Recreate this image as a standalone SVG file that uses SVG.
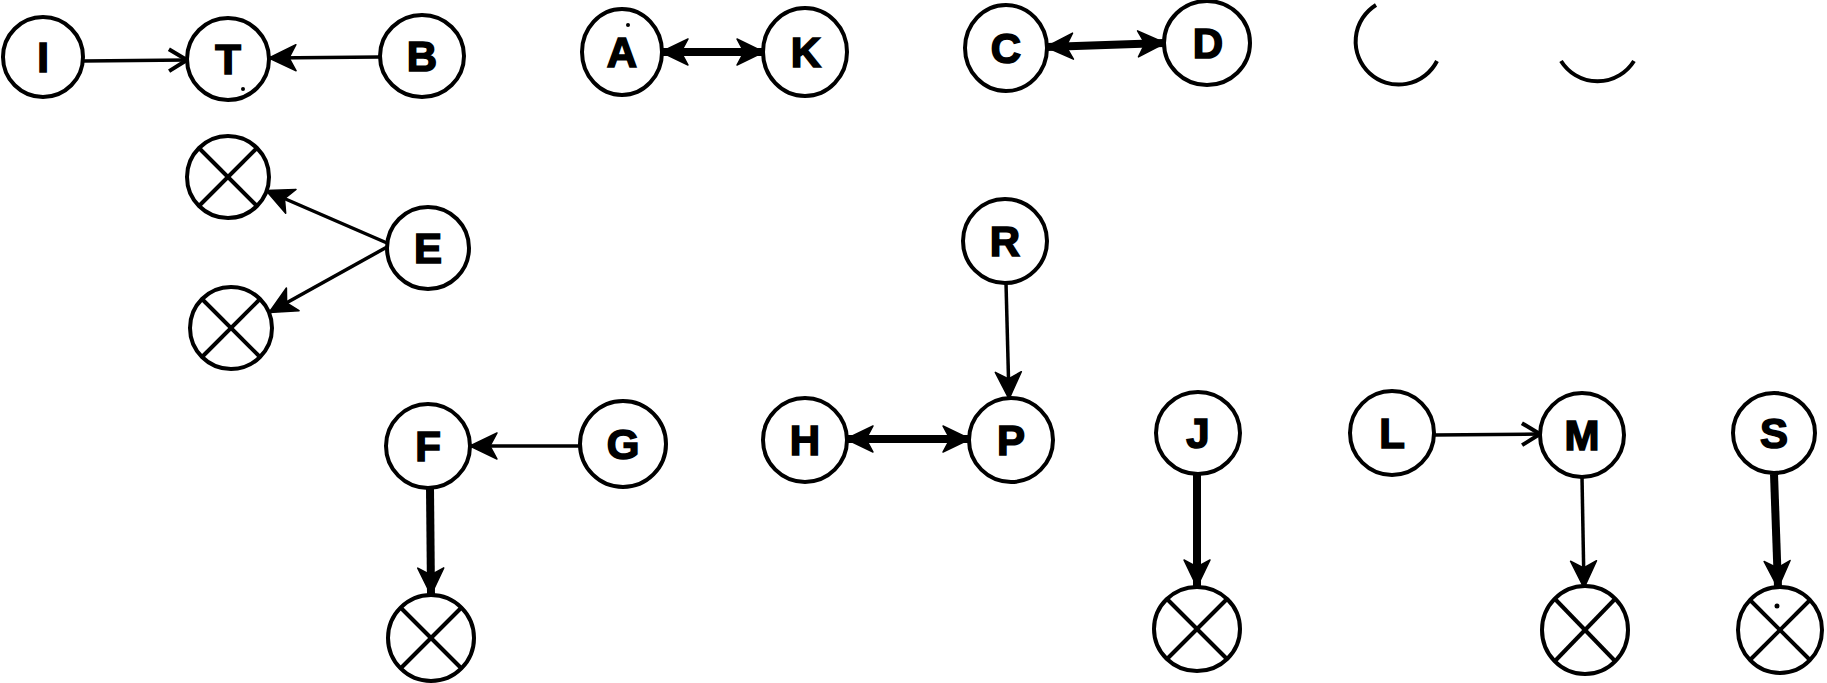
<svg xmlns="http://www.w3.org/2000/svg" width="1827" height="683" viewBox="0 0 1827 683">
<style>
.n{fill:#fff;stroke:#000;stroke-width:4}
.xl{stroke:#000;stroke-width:4}
.t{font-family:"Liberation Sans",Arial,sans-serif;font-weight:bold;font-size:42px;text-anchor:middle;fill:#000;stroke:#000;stroke-width:1.6}
.e{stroke:#000;stroke-width:3.5;fill:none}
.k{stroke-width:8}
.arc{fill:none;stroke:#000;stroke-width:4}
</style>
<defs>
<marker id="barb" markerUnits="userSpaceOnUse" markerWidth="40" markerHeight="40" viewBox="-34 -20 40 40" refX="0" refY="0" orient="auto-start-reverse">
<path d="M1,0 L-26,-13 L-19,0 L-26,13 Z" fill="#000" stroke="#000" stroke-width="1.5" stroke-linejoin="round"/>
</marker>
<marker id="open" markerUnits="userSpaceOnUse" markerWidth="34" markerHeight="34" viewBox="-28 -17 34 34" refX="0" refY="0" orient="auto-start-reverse">
<path d="M-18,-11 L0,0 L-18,11" fill="none" stroke="#000" stroke-width="4"/>
</marker>
</defs>
<g id="connectors">
<line class="e" x1="83" y1="61" x2="187" y2="60" marker-end="url(#open)"/>
<line class="e" x1="380" y1="57" x2="270" y2="58" marker-end="url(#barb)"/>
<line class="e k" x1="662" y1="52" x2="763" y2="52" marker-start="url(#barb)" marker-end="url(#barb)"/>
<line class="e k" x1="1047" y1="47" x2="1164" y2="43" marker-start="url(#barb)" marker-end="url(#barb)"/>
<line class="e" x1="387" y1="243" x2="267" y2="191" marker-end="url(#barb)"/>
<line class="e" x1="387" y1="247" x2="270" y2="312" marker-end="url(#barb)"/>
<line class="e" x1="580" y1="446" x2="471" y2="446" marker-end="url(#barb)"/>
<line class="e k" x1="430" y1="488" x2="431" y2="594" marker-end="url(#barb)"/>
<line class="e" x1="1006" y1="283" x2="1009" y2="398" marker-end="url(#barb)"/>
<line class="e k" x1="847" y1="439" x2="969" y2="439" marker-start="url(#barb)" marker-end="url(#barb)"/>
<line class="e k" x1="1197" y1="473" x2="1197" y2="586" marker-end="url(#barb)"/>
<line class="e" x1="1434" y1="435" x2="1540" y2="434" marker-end="url(#open)"/>
<line class="e" x1="1582" y1="477" x2="1584" y2="587" marker-end="url(#barb)"/>
<line class="e k" x1="1774" y1="474" x2="1778" y2="587" marker-end="url(#barb)"/>
</g>
<g id="node-I"><ellipse class="n" cx="43" cy="57" rx="40" ry="40"/><text class="t" x="43" y="72">I</text></g>
<g id="node-T"><ellipse class="n" cx="228" cy="59" rx="41" ry="41"/><text class="t" x="228" y="74">T</text><circle cx="243" cy="89" r="2" fill="#000"/></g>
<g id="node-B"><ellipse class="n" cx="422" cy="56" rx="42" ry="41"/><text class="t" x="422" y="71">B</text></g>
<g id="node-A"><ellipse class="n" cx="622" cy="52" rx="40" ry="43"/><text class="t" x="622" y="67">A</text><circle cx="628" cy="25" r="2" fill="#000"/></g>
<g id="node-K"><ellipse class="n" cx="805" cy="52" rx="42" ry="44"/><text class="t" x="806" y="67">K</text></g>
<g id="node-C"><ellipse class="n" cx="1006" cy="48" rx="41" ry="43"/><text class="t" x="1006" y="63">C</text></g>
<g id="node-D"><ellipse class="n" cx="1207" cy="43" rx="43" ry="42"/><text class="t" x="1208" y="58">D</text></g>
<g id="arcs">
<path class="arc" d="M1376 5 A43 43 0 1 0 1437 61"/>
<path class="arc" d="M1561 61 A43 43 0 0 0 1634 61"/>
</g>
<g id="node-X1"><circle class="n" cx="228" cy="177" r="41"/><line class="xl" x1="199" y1="148" x2="257" y2="206"/><line class="xl" x1="257" y1="148" x2="199" y2="206"/></g>
<g id="node-E"><circle class="n" cx="428" cy="248" r="41"/><text class="t" x="428" y="263">E</text></g>
<g id="node-X2"><circle class="n" cx="231" cy="328" r="41"/><line class="xl" x1="202" y1="299" x2="260" y2="357"/><line class="xl" x1="260" y1="299" x2="202" y2="357"/></g>
<g id="node-R"><circle class="n" cx="1005" cy="241" r="42"/><text class="t" x="1005" y="256">R</text></g>
<g id="node-F"><circle class="n" cx="428" cy="446" r="42"/><text class="t" x="428" y="461">F</text></g>
<g id="node-G"><circle class="n" cx="623" cy="444" r="43"/><text class="t" x="623" y="459">G</text></g>
<g id="node-H"><circle class="n" cx="805" cy="440" r="42"/><text class="t" x="805" y="455">H</text></g>
<g id="node-P"><circle class="n" cx="1011" cy="440" r="42"/><text class="t" x="1011" y="455">P</text></g>
<g id="node-J"><ellipse class="n" cx="1198" cy="433" rx="42" ry="41"/><text class="t" x="1198" y="448">J</text></g>
<g id="node-L"><ellipse class="n" cx="1392" cy="433" rx="42" ry="42"/><text class="t" x="1392" y="448">L</text></g>
<g id="node-M"><ellipse class="n" cx="1582" cy="435" rx="42" ry="42"/><text class="t" x="1582" y="450">M</text></g>
<g id="node-S"><ellipse class="n" cx="1774" cy="433" rx="41" ry="40"/><text class="t" x="1774" y="448">S</text></g>
<g id="node-X3"><circle class="n" cx="431" cy="638" r="43"/><line class="xl" x1="401" y1="608" x2="461" y2="668"/><line class="xl" x1="461" y1="608" x2="401" y2="668"/></g>
<g id="node-X4"><ellipse class="n" cx="1197" cy="629" rx="43" ry="42"/><line class="xl" x1="1167" y1="599" x2="1227" y2="659"/><line class="xl" x1="1227" y1="599" x2="1167" y2="659"/></g>
<g id="node-X5"><ellipse class="n" cx="1585" cy="630" rx="43" ry="44"/><line class="xl" x1="1555" y1="599" x2="1615" y2="661"/><line class="xl" x1="1615" y1="599" x2="1555" y2="661"/></g>
<g id="node-X6"><ellipse class="n" cx="1780" cy="630" rx="42" ry="43"/><line class="xl" x1="1750" y1="600" x2="1810" y2="660"/><line class="xl" x1="1810" y1="600" x2="1750" y2="660"/><circle cx="1777" cy="606" r="2.5" fill="#000"/></g>
</svg>
